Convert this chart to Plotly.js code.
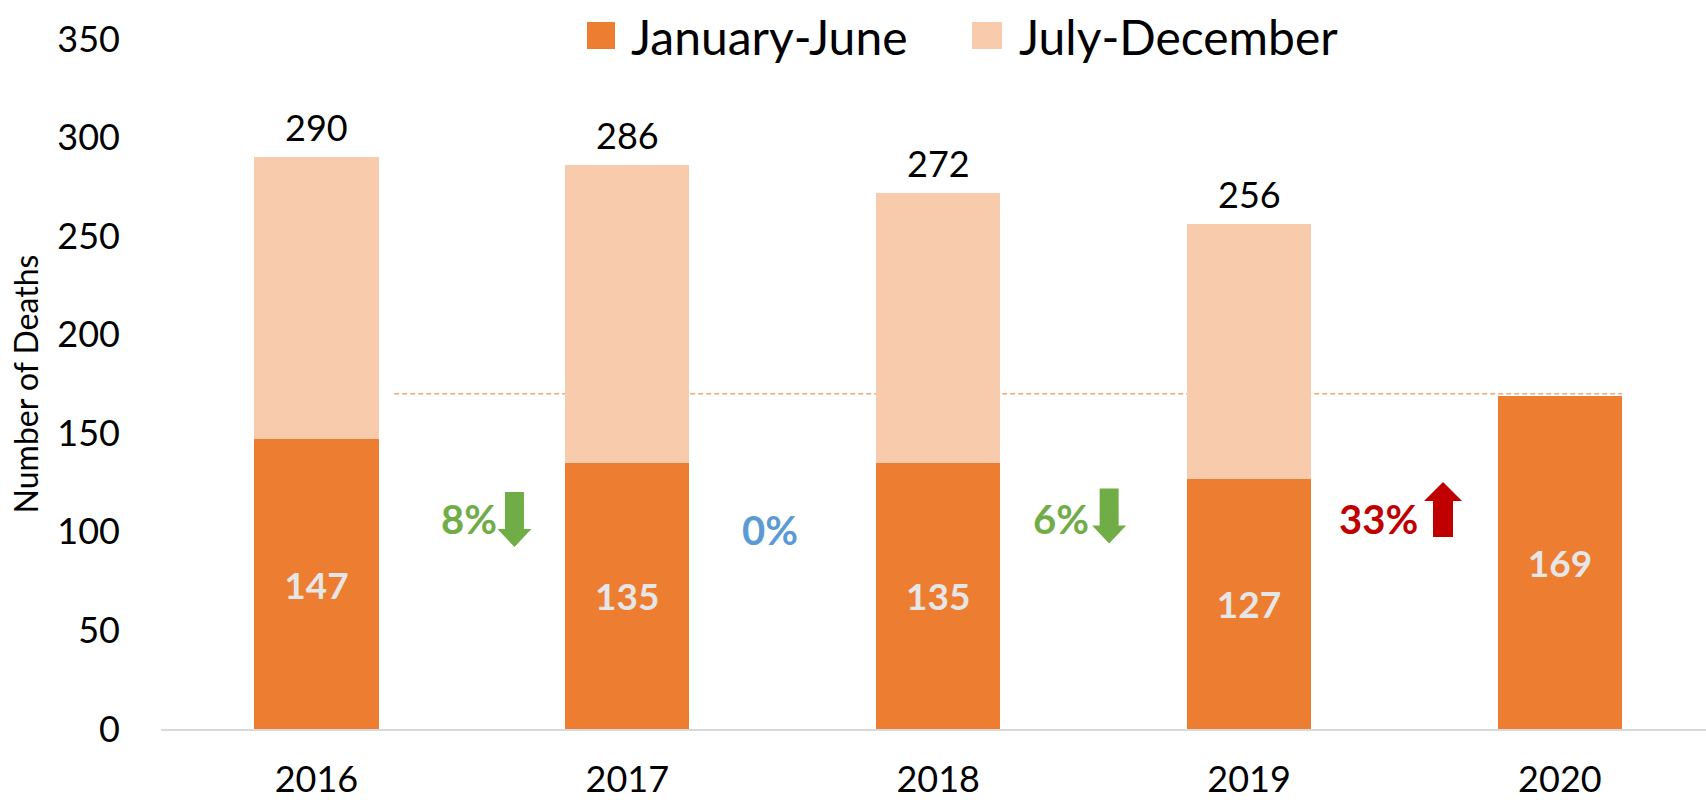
<!DOCTYPE html>
<html>
<head>
<meta charset="utf-8">
<script src="https://cdn.plot.ly/plotly-3.0.1.min.js"></script>
<style>html,body{margin:0;padding:0;background:#fff;}#chart{width:1706px;height:800px;}</style>
</head>
<body>
<div id="chart"></div>
<script>
// ---- data ----
const years = ['2016', '2017', '2018', '2019', '2020'];
const janJun = [147, 135, 135, 127, 169];
const julDec = [143, 151, 137, 129, null];
const seriesNames = ['January-June', 'July-December'];
const yTicks = [0, 50, 100, 150, 200, 250, 300, 350];
const yTitle = 'Number of Deaths';
const refLevel = 170;

// ---- styles / layout geometry ----
const FONT = 'Lato, "Open Sans", sans-serif';
const cDark = '#ED7D31', cLight = '#F8CBAD';
const W = 1706, H = 800, ML = 161, MR = 0, MT = 39, MB = 71;
const pw = W - ML - MR, ph = H - MT - MB;
const px2x = p => (p - ML) / pw;
const px2y = p => (H - MB - p) / ph;

const totals = janJun.map((v, i) => julDec[i] == null ? null : v + julDec[i]);

const traces = [
  {
    type: 'bar', name: seriesNames[0], x: years, y: janJun,
    marker: {color: cDark},
    width: 0.4,
    text: janJun.map(String), textposition: 'inside', insidetextanchor: 'middle',
    textangle: 0, constraintext: 'none',
    textfont: {family: FONT, size: 37, color: '#E7E6E6', weight: 'bold'},
    hoverinfo: 'none', showlegend: false
  },
  {
    type: 'bar', name: seriesNames[1], x: years, y: julDec,
    marker: {color: cLight},
    width: 0.4, hoverinfo: 'none', showlegend: false
  }
];

const annotations = [];
// totals above bars (x given as category index)
years.forEach((yr, i) => {
  if (totals[i] != null) {
    annotations.push({
      x: i, y: totals[i], xref: 'x', yref: 'y', text: String(totals[i]),
      showarrow: false, yanchor: 'bottom', yshift: 6,
      font: {family: FONT, size: 36, color: '#000'}
    });
  }
});

// percent-change labels between consecutive Jan-June values
const changePos = [ {x: 0.49, y: 106.5, ax: 0.637, ay: 120.2},
                    {x: 1.46, y: 101,   ax: null,  ay: null},
                    {x: 2.395, y: 106.5, ax: 2.55, ay: 122},
                    {x: 3.415, y: 106.5, ax: 3.624, ay: 125.3} ];
const shapes = [];
for (let i = 0; i < janJun.length - 1; i++) {
  const ch = (janJun[i + 1] - janJun[i]) / janJun[i];
  const pct = Math.round(Math.abs(ch) * 100);
  const col = pct === 0 ? '#5B9BD5' : (ch < 0 ? '#70AD47' : '#C00000');
  const pos = changePos[i];
  annotations.push({
    x: pos.x, y: pos.y, xref: 'x', yref: 'y', text: pct + '%', showarrow: false,
    font: {family: FONT, size: 40, color: col, weight: 'bold'}
  });
  if (pct !== 0) {
    const down = ch < 0;
    shapes.push({
      type: 'path', xref: 'x', yref: 'y', xsizemode: 'pixel', ysizemode: 'pixel',
      xanchor: pos.ax, yanchor: pos.ay,
      path: down ? 'M-9.5,0L9.5,0L9.5,-37L17,-37L0,-55L-17,-37L-9.5,-37Z'
                 : 'M0,0L19,-19L10,-19L10,-55L-10,-55L-10,-19L-19,-19Z',
      fillcolor: col, line: {width: 0}
    });
  }
}

// reference dashed line (2020 level)
shapes.push({
  type: 'line', xref: 'x', yref: 'y', x0: 0.25, x1: 4.2, y0: refLevel, y1: refLevel,
  layer: 'below', line: {color: cDark, width: 1, dash: '5px,3px'}
});

// custom legend (large swatches)
const legendItems = [
  {name: seriesNames[0], color: cDark, sx0: 587, sx1: 615, tx: 629},
  {name: seriesNames[1], color: cLight, sx0: 972, sx1: 1002, tx: 1017}
];
legendItems.forEach(it => {
  shapes.push({type: 'rect', xref: 'paper', yref: 'paper',
    x0: px2x(it.sx0), x1: px2x(it.sx1), y0: px2y(49), y1: px2y(22),
    fillcolor: it.color, line: {width: 0}});
  annotations.push({xref: 'paper', yref: 'paper', x: px2x(it.tx), y: px2y(36),
    xanchor: 'left', yanchor: 'middle', showarrow: false, text: it.name,
    font: {family: FONT, size: 48, color: '#000'}});
});

const layout = {
  width: W, height: H,
  margin: {l: ML, r: MR, t: MT, b: MB, pad: 0},
  paper_bgcolor: '#fff', plot_bgcolor: '#fff',
  barmode: 'stack', showlegend: false,
  font: {family: FONT, color: '#000'},
  xaxis: {
    type: 'category', range: [-0.5, 4.47], fixedrange: true,
    showgrid: false, zeroline: false, showline: true, linecolor: '#D9D9D9', linewidth: 2,
    ticks: '', ticklabelstandoff: 18,
    tickfont: {family: FONT, size: 36, color: '#000'}
  },
  yaxis: {
    range: [0, 350], tickvals: yTicks, ticktext: yTicks.map(String), fixedrange: true,
    showgrid: false, zeroline: false, showline: false,
    ticks: '', ticklabelstandoff: 40,
    tickfont: {family: FONT, size: 36, color: '#000'},
    title: {text: yTitle, standoff: 9, font: {family: FONT, size: 32, color: '#000'}}
  },
  annotations: annotations,
  shapes: shapes
};

Plotly.newPlot('chart', traces, layout, {displayModeBar: false, staticPlot: true});
</script>
</body>
</html>
